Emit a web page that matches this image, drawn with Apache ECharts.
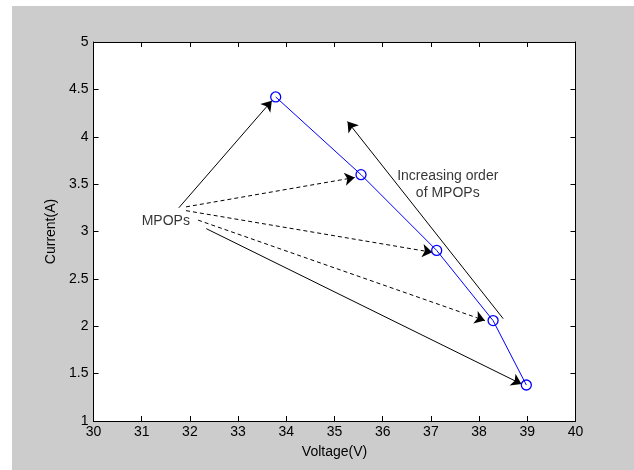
<!DOCTYPE html>
<html>
<head>
<meta charset="utf-8">
<script src="https://cdn.jsdelivr.net/npm/echarts@6/dist/echarts.min.js"></script>
<style>
html,body{margin:0;padding:0;background:#fff;}
#c{width:634px;height:470px;}
</style>
</head>
<body>
<div id="c"></div>
<script>
// MPOP curve (Voltage, Current)
var voltage = [33.78, 35.55, 37.12, 38.29, 38.98];
var current = [4.42, 3.60, 2.80, 2.06, 1.38];

// Annotation arrows: [x1, y1, x2, y2]
var solidArrows = [
  [31.77, 3.25, 33.70, 4.38],
  [32.34, 3.03, 38.88, 1.39],
  [38.50, 2.08, 35.27, 4.16]
];
var dashedArrows = [
  [31.92, 3.26, 35.42, 3.57],
  [31.92, 3.22, 37.03, 2.78],
  [32.17, 3.12, 38.12, 2.06]
];

// Text labels: [x, y, text]
var labelMPOPs = [31.50, 3.11, 'MPOPs'];
var labelOrder = [37.35, 3.49, 'Increasing order\nof MPOPs'];

var xTicks = {min: 30, max: 40, interval: 1};
var yTicks = {min: 1, max: 5, interval: 0.5};

var FONT = 'Liberation Sans, Arial, sans-serif';

function arrowItems(arr, type) {
  return arr.map(function (a) {
    return {coords: [[a[0], a[1]], [a[2], a[3]]], lineStyle: {type: type}};
  });
}

var curve = voltage.map(function (v, i) { return [v, current[i]]; });

var chart = echarts.init(document.getElementById('c'), null, {renderer: 'canvas'});

var axisCommon = {
  axisLine: {show: true, lineStyle: {color: '#000', width: 1}},
  axisTick: {show: true, inside: true, length: 5, lineStyle: {color: '#000'}},
  splitLine: {show: false}
};

chart.setOption({
  backgroundColor: '#cccccc',
  animation: false,
  textStyle: {fontFamily: FONT},
  graphic: [
    {type: 'rect', shape: {x: 0, y: 0, width: 12, height: 470}, style: {fill: '#fff'}, silent: true},
    {type: 'rect', shape: {x: 0, y: 0, width: 634, height: 6}, style: {fill: '#fff'}, silent: true}
  ],
  grid: {
    left: 93.5, top: 42, right: 58.5, bottom: 49,
    show: true, backgroundColor: '#ffffff', borderWidth: 0
  },
  xAxis: [
    Object.assign({
      type: 'value', position: 'bottom',
      min: xTicks.min, max: xTicks.max, interval: xTicks.interval,
      name: 'Voltage(V)', nameLocation: 'middle', nameGap: 24,
      nameTextStyle: {color: '#000', fontSize: 14, fontFamily: FONT},
      axisLabel: {color: '#000', fontSize: 14, margin: 4, fontFamily: FONT}
    }, axisCommon),
    Object.assign({
      type: 'value', position: 'top',
      min: xTicks.min, max: xTicks.max, interval: xTicks.interval,
      axisLabel: {show: false}
    }, axisCommon)
  ],
  yAxis: [
    Object.assign({
      type: 'value', position: 'left',
      min: yTicks.min, max: yTicks.max, interval: yTicks.interval,
      name: 'Current(A)', nameLocation: 'middle', nameGap: 34,
      nameTextStyle: {color: '#000', fontSize: 14, fontFamily: FONT},
      axisLabel: {color: '#000', fontSize: 14, margin: 5, fontFamily: FONT}
    }, axisCommon),
    Object.assign({
      type: 'value', position: 'right',
      min: yTicks.min, max: yTicks.max, interval: yTicks.interval,
      axisLabel: {show: false}
    }, axisCommon)
  ],
  series: [
    {
      type: 'line',
      data: curve,
      xAxisIndex: 0, yAxisIndex: 0,
      symbol: 'circle', symbolSize: 10,
      lineStyle: {color: '#0000ff', width: 1},
      itemStyle: {color: 'rgba(0,0,0,0)', borderColor: '#0000ff', borderWidth: 1.3},
      z: 3
    },
    {
      type: 'lines',
      coordinateSystem: 'cartesian2d',
      xAxisIndex: 0, yAxisIndex: 0,
      symbol: ['none', 'arrow'], symbolSize: [0, 10],
      lineStyle: {color: '#000', width: 1, opacity: 1, curveness: 0},
      data: arrowItems(solidArrows, 'solid').concat(arrowItems(dashedArrows, [4, 3])),
      z: 2
    },
    {
      type: 'scatter',
      xAxisIndex: 0, yAxisIndex: 0,
      symbolSize: 0,
      data: [
        {value: [labelMPOPs[0], labelMPOPs[1]], name: labelMPOPs[2]},
        {value: [labelOrder[0], labelOrder[1]], name: labelOrder[2]}
      ],
      label: {
        show: true, position: 'inside', formatter: '{b}',
        color: '#000', fontSize: 14, lineHeight: 17, align: 'center',
        fontFamily: FONT
      },
      z: 4
    }
  ]
});
</script>
</body>
</html>
